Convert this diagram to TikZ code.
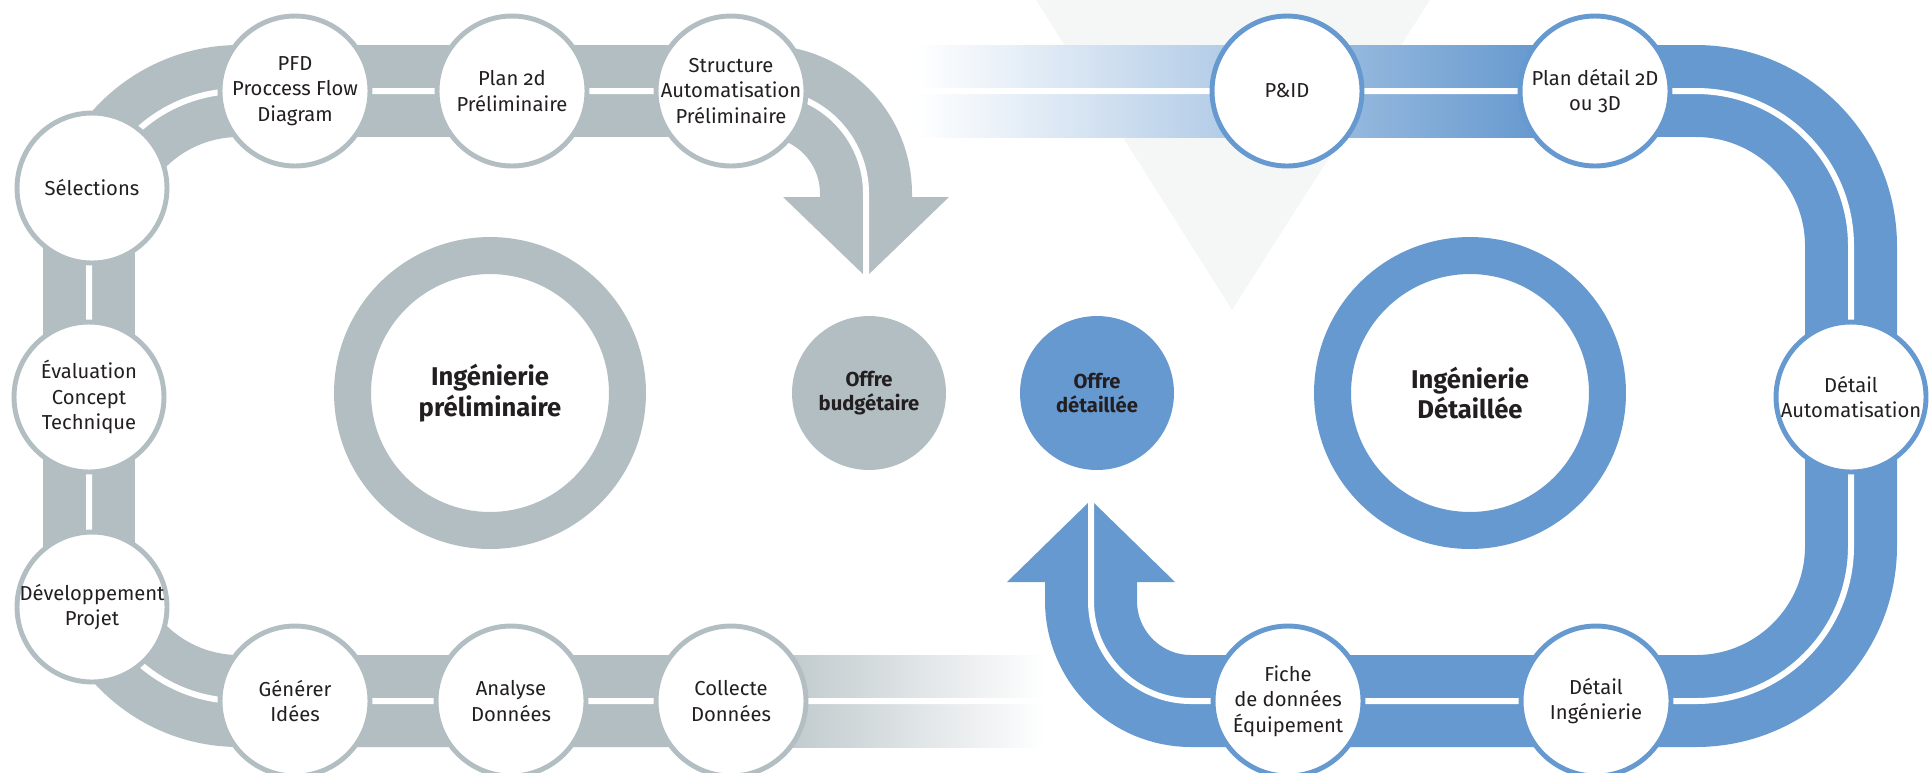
\documentclass[tikz,border=0pt]{standalone}
\usepackage{fontspec}
\setmainfont{Fira Sans}[Numbers=OldStyle]
\usetikzlibrary{backgrounds}
\definecolor{trackgray}{HTML}{B2BEC2}
\definecolor{trackblue}{HTML}{6699CF}
\definecolor{textdark}{HTML}{231F20}
\definecolor{shadetri}{HTML}{F5F7F7}
\begin{document}
\begin{tikzpicture}[x=0.02cm, y=-0.02cm,
  every node/.style={text=textdark, align=center},
  stepgray/.style={circle, draw=trackgray, fill=white, line width=2.8pt, minimum size=3cm, inner sep=-4pt, font=\fontsize{11.5}{14.5}\selectfont},
  stepblue/.style={stepgray, draw=trackblue},
  phase/.style={circle, line width=0.74cm, minimum size=5.5cm, font=\fontsize{14.6}{17.5}\selectfont\bfseries},
  offer/.style={circle, minimum size=3.08cm, inner sep=0pt, font=\fontsize{11.5}{14}\selectfont\bfseries},
  track/.style={line width=1.84cm},
  midline/.style={draw=white, line width=0.12cm}]
\useasboundingbox (0,0) rectangle (1930,772);
% Preliminary engineering steps
\node [stepgray] (collecte) at (731,701) {Collecte\\Données};
\node [stepgray] (analyse) at (511,701) {Analyse\\Données};
\node [stepgray] (generer) at (295,701) {Générer\\Idées};
\node [stepgray] (developpement) at (92,607) {Développement\\Projet};
\node [stepgray] (evaluation) at (89,397) {Évaluation\\Concept\\Technique};
\node [stepgray] (selections) at (92,188) {Sélections};
\node [stepgray] (pfd) at (295,91) {PFD\\Proccess Flow\\Diagram};
\node [stepgray] (plan) at (512,91) {Plan 2d\\Préliminaire};
\node [stepgray] (structure) at (731,91) {Structure\\Automatisation\\Préliminaire};
% Detailed engineering steps
\node [stepblue] (pid) at (1287,91) {P\&ID};
\node [stepblue] (plandetail) at (1595,91) {Plan détail 2D\\ou 3D};
\node [stepblue] (automatisation) at (1851,397) {Détail\\Automatisation};
\node [stepblue] (detailing) at (1596,701) {Détail\\Ingénierie};
\node [stepblue] (fiche) at (1288,701) {Fiche\\de données\\Équipement};
% Phases and offers
\node [phase, draw=trackgray] (prelim) at (490,393) {Ingénierie\\préliminaire};
\node [phase, draw=trackblue] (detailed) at (1470,393) {Ingénierie\\Détaillée};
\node [offer, fill=trackgray] (budget) at (869,393) {Offre\\budgétaire};
\node [offer, fill=trackblue] (offredet) at (1097,393) {Offre\\détaillée};
% Track corners and arrow ends
\coordinate (gfade) at (1045,701);
\coordinate (gbl) at (89,701);
\coordinate (gtl) at (89,91);
\coordinate (gtr) at (866,91);
\coordinate (gend) at (866,201);
\coordinate (gbase) at (866,197);
\coordinate (gtip) at (866,277);
\coordinate (bfade) at (915,91);
\coordinate (bstart) at (1530,91);
\coordinate (btr) at (1851,91);
\coordinate (bbr) at (1851,701);
\coordinate (bbl) at (1091,701);
\coordinate (bend) at (1091,578);
\coordinate (bbase) at (1091,582);
\coordinate (btip) at (1091,500);
\begin{pgfonlayer}{background}
% Faint triangle behind
\fill [shadetri] (1036,0) -- (1430,0) -- (1232,310) -- cycle;
% Gray loop
\fill [left color=trackgray, right color=white] (731,655) rectangle (1045,747);
\draw [track, draw=trackgray, rounded corners=3cm] (collecte.center) -- (gbl) -- (gtl) -- (pfd.center);
\draw [track, draw=trackgray, rounded corners=2.05cm] (pfd.center) -- (gtr) -- (gend);
\fill [trackgray] ([xshift=-1.66cm]gbase) -- ([xshift=1.66cm]gbase) -- (gtip) -- cycle;
\draw [midline, rounded corners=3cm] (gfade) -- (gbl) -- (gtl) -- (pfd.center);
\draw [midline, rounded corners=2.05cm] (pfd.center) -- (gtr) -- (gtip);
% Blue loop
\fill [left color=white, right color=trackblue] (915,45) rectangle (1540,137);
\draw [track, draw=trackblue, rounded corners=3.1cm] (bstart) -- (btr) -- (bbr) -- (detailing.center);
\draw [track, draw=trackblue, rounded corners=2cm] (detailing.center) -- (bbl) -- (bend);
\fill [trackblue] ([xshift=-1.68cm]bbase) -- ([xshift=1.68cm]bbase) -- (btip) -- cycle;
\draw [midline, rounded corners=3.1cm] (bfade) -- (btr) -- (bbr) -- (detailing.center);
\draw [midline, rounded corners=2cm] (detailing.center) -- (bbl) -- (btip);
\end{pgfonlayer}
\end{tikzpicture}
\end{document}
